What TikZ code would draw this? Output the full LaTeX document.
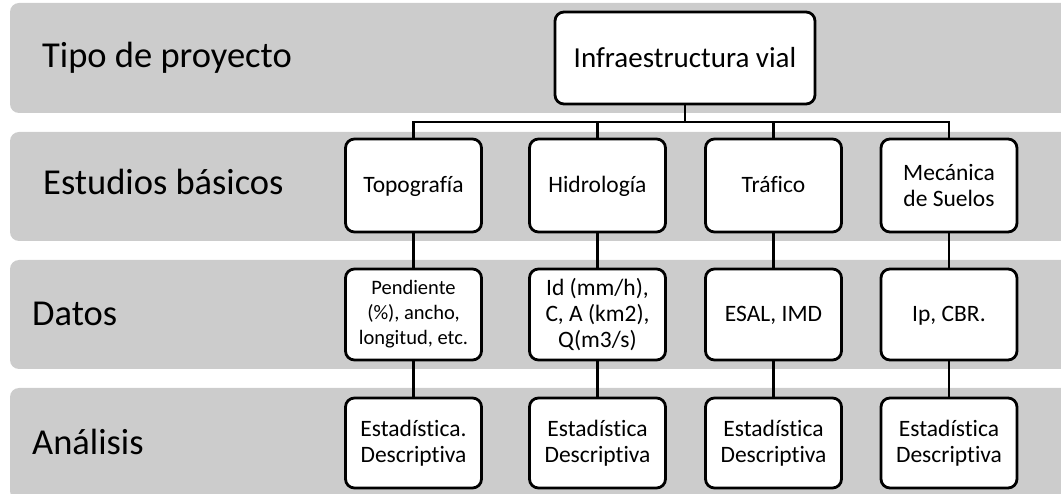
\documentclass[tikz,border=0pt]{standalone}
\usepackage{fontspec}
\setmainfont{Carlito}[Ligatures={NoCommon,NoRare,NoContextual}]
\definecolor{bandgray}{RGB}{204,204,204}
\begin{document}
\begin{tikzpicture}[x=1pt,y=-1pt,
  bandbox/.style={fill=bandgray, draw=none, rounded corners=9pt},
  box/.style={draw=black, line width=2.8pt, fill=white, rounded corners=9pt,
    minimum width=136pt, minimum height=92pt, align=center, inner sep=2pt,
    font=\fontsize{23.5}{26}\selectfont},
  one/.style={text height=15pt, text depth=0pt},
  lbl/.style={anchor=base west, font=\fontsize{36.5}{40}\selectfont, inner sep=0pt},
  conn/.style={line width=2.7pt}]
\useasboundingbox (0,0) rectangle (1061,494);
\clip (0,0) rectangle (1061,494);
% bands
\fill[bandbox] (10,3) rectangle (1085,113);
\fill[bandbox] (10,132) rectangle (1085,241);
\fill[bandbox] (10,260) rectangle (1085,369);
\fill[bandbox] (10,388) rectangle (1085,500);
% row labels
\node[lbl] (l1) at (42,68) {Tipo de proyecto};
\node[lbl] (l2) at (43,195) {Estudios básicos};
\node[lbl] (l3) at (32,326) {Datos};
\node[lbl] (l4) at (32,454) {Análisis};
% top
\node[box, minimum width=260pt, text height=19pt, text depth=0pt, font=\fontsize{29}{32}\selectfont] (top) at (685,58) {Infraestructura vial};
% level 2
\node[box, one, minimum height=93pt] (topo) at (413.5,185.5) {Topografía};
\node[box, one, minimum height=93pt] (hidro) at (597.5,185.5) {Hidrología};
\node[box, one, minimum height=93pt] (traf) at (773.5,185.5) {Tráfico};
\node[box, minimum height=93pt] (meca) at (949,185.5) {Mecánica\\de Suelos};
% level 3
\node[box, minimum height=91pt, font=\fontsize{20.5}{25}\selectfont] (pend) at (413.5,314.5) {Pendiente\\(\%), ancho,\\longitud, etc.};
\node[box, minimum height=91pt] (idmm) at (597.5,314.5) {Id (mm/h),\\C, A (km2),\\Q(m3/s)};
\node[box, one, minimum height=91pt] (esal) at (773.5,314.5) {ESAL, IMD};
\node[box, one, minimum height=91pt] (ipcbr) at (949,314.5) {Ip, CBR.};
% level 4
\node[box, minimum height=90pt] (est1) at (413.5,443) {Estadística.\\Descriptiva};
\node[box, minimum height=90pt] (est2) at (597.5,443) {Estadística\\Descriptiva};
\node[box, minimum height=90pt] (est3) at (773.5,443) {Estadística\\Descriptiva};
\node[box, minimum height=90pt] (est4) at (949,443) {Estadística\\Descriptiva};
% connectors
\coordinate (bus) at (685,122);
\draw[conn] (top.south) -- (bus);
\draw[conn] (bus) -| (topo.north);
\draw[conn] (bus) -| (hidro.north);
\draw[conn] (bus) -| (traf.north);
\draw[conn] (bus) -| (meca.north);
\draw[conn] (topo) -- (pend);
\draw[conn] (hidro) -- (idmm);
\draw[conn] (traf) -- (esal);
\draw[conn] (meca) -- (ipcbr);
\draw[conn] (pend) -- (est1);
\draw[conn] (idmm) -- (est2);
\draw[conn] (esal) -- (est3);
\draw[conn] (ipcbr) -- (est4);
\end{tikzpicture}
\end{document}
